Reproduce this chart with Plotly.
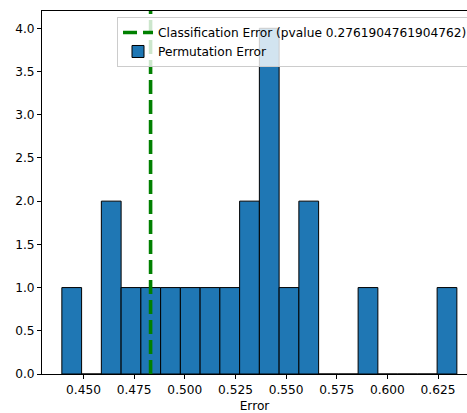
import plotly.graph_objects as go

# Data
bin_start = 0.4393
bin_width = 0.00975
counts = [1, 0, 2, 1, 1, 1, 1, 1, 1, 2, 4, 1, 2, 0, 0, 1, 0, 0, 0, 1]
classification_error = 0.4831
pvalue_text = "0.2761904761904762"
x_ticks = [0.450, 0.475, 0.500, 0.525, 0.550, 0.575, 0.600, 0.625]
y_ticks = [0.0, 0.5, 1.0, 1.5, 2.0, 2.5, 3.0, 3.5, 4.0]

centers = [bin_start + bin_width * (i + 0.5) for i in range(len(counts))]
y_top = max(counts) * 1.05

fig = go.Figure()
fig.add_trace(go.Scatter(
    x=[classification_error, classification_error], y=[0, y_top],
    mode="lines", line=dict(color="#008000", width=3.6, dash="14px,6px"),
    name=f"Classification Error (pvalue {pvalue_text})",
))
fig.add_trace(go.Bar(
    x=centers, y=counts, width=[bin_width] * len(counts),
    marker=dict(color="#1f77b4", line=dict(color="black", width=1)),
    name="Permutation Error",
))

font = dict(family="DejaVu Sans", size=12.2, color="black")
fig.update_layout(
    width=467, height=413,
    margin=dict(l=42, r=0, t=11, b=39, autoexpand=False),
    plot_bgcolor="white", paper_bgcolor="white",
    font=font,
    showlegend=True,
    legend=dict(x=0.1765, y=0.9835, xanchor="left", yanchor="top",
                bgcolor="rgba(255,255,255,0.8)", bordercolor="#cccccc",
                borderwidth=1, font=font),
    xaxis=dict(range=[0.4295, 0.6393], tickvals=x_ticks,
               ticktext=[f"{v:.3f}" for v in x_ticks],
               showgrid=False, zeroline=False, showline=True, linecolor="black",
               linewidth=1, mirror=True, ticks="outside", ticklen=4,
               tickcolor="black", title=dict(text="Error", standoff=6, font=font)),
    yaxis=dict(range=[0, y_top], tickvals=y_ticks,
               ticktext=[f"{v:.1f}" for v in y_ticks],
               showgrid=False, zeroline=False, showline=True, linecolor="black",
               linewidth=1, ticks="outside", ticklen=4, tickcolor="black"),
)

fig.write_html("out.html")
